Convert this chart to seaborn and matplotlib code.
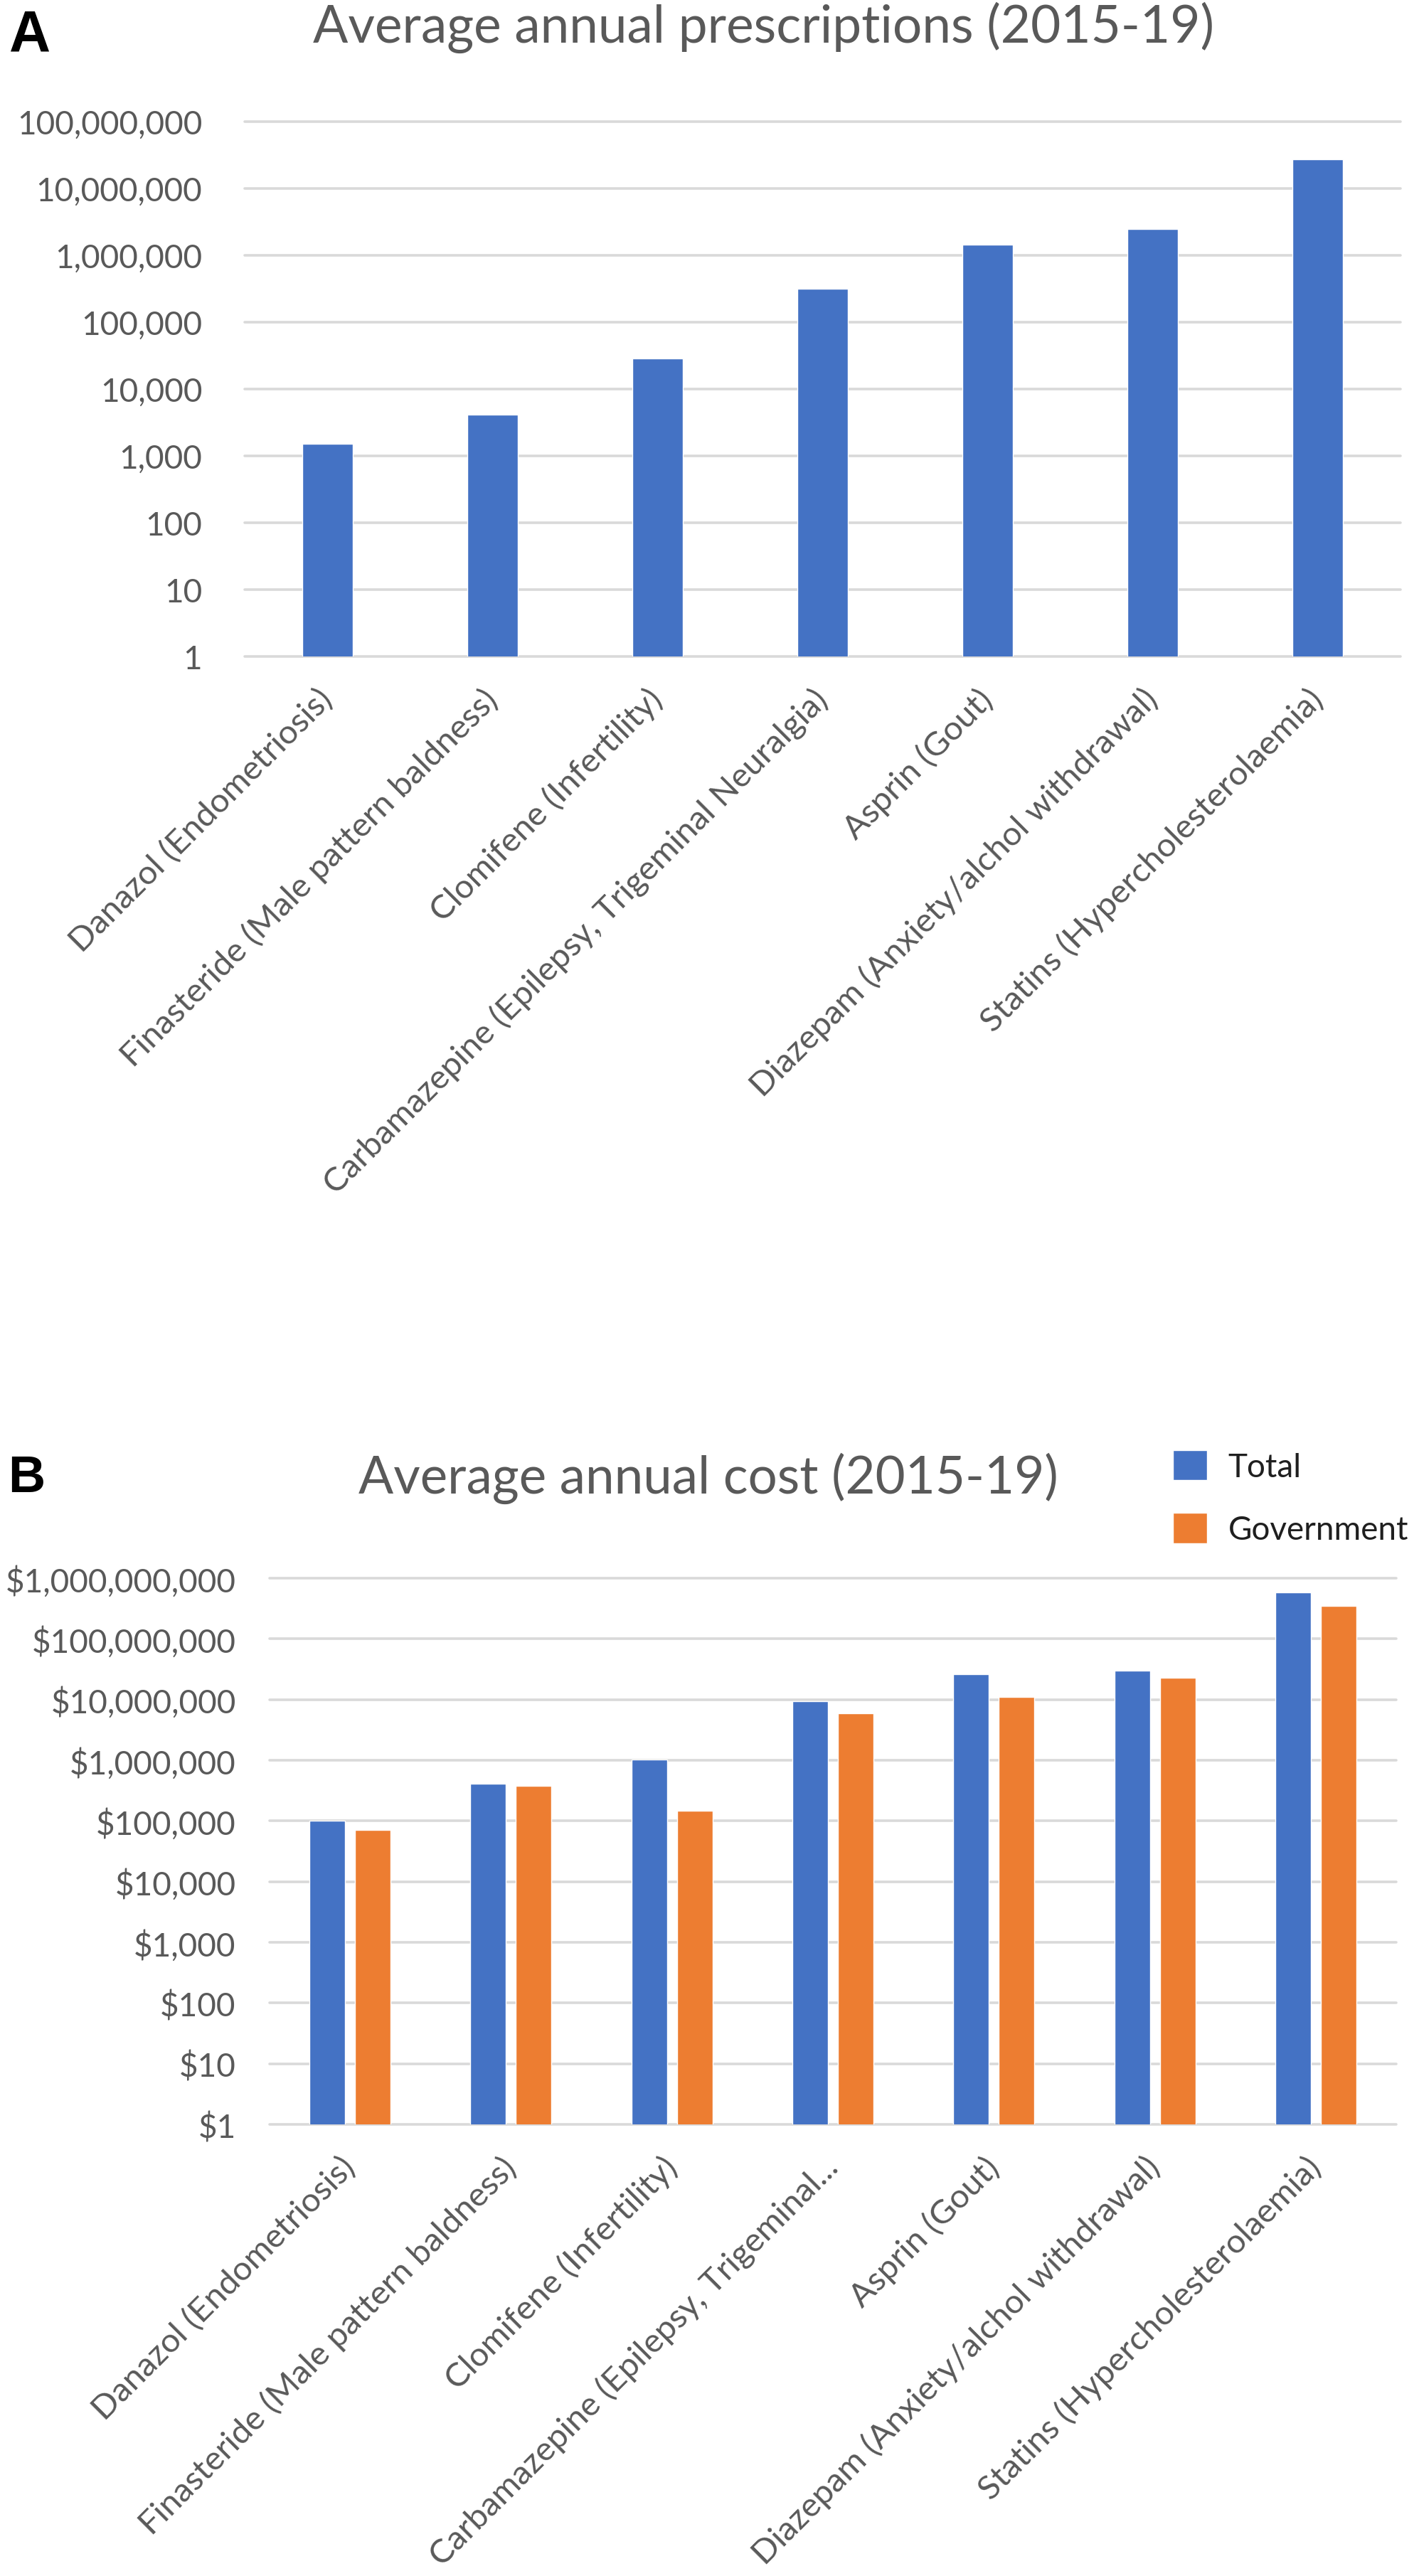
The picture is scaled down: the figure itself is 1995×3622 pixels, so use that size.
import numpy as np
import pandas as pd
import matplotlib
matplotlib.use("Agg")
import matplotlib.pyplot as plt
import seaborn as sns
from matplotlib.ticker import NullLocator, FixedLocator

# ---------------- data ----------------
categories = [
    "Danazol (Endometriosis)",
    "Finasteride (Male pattern baldness)",
    "Clomifene (Infertility)",
    "Carbamazepine (Epilepsy, Trigeminal Neuralgia)",
    "Asprin (Gout)",
    "Diazepam (Anxiety/alchol withdrawal)",
    "Statins (Hypercholesterolaemia)",
]
labels_b = [
    "Danazol (Endometriosis)",
    "Finasteride (Male pattern baldness)",
    "Clomifene (Infertility)",
    "Carbamazepine (Epilepsy, Trigeminal...",
    "Asprin (Gout)",
    "Diazepam (Anxiety/alchol withdrawal)",
    "Statins (Hypercholesterolaemia)",
]
prescriptions = [1500, 4100, 29000, 315000, 1440000, 2500000, 27500000]
cost_total = [101000, 412000, 1020000, 9450000, 25900000, 30200000, 590000000]
cost_government = [70500, 383000, 148000, 5870000, 10900000, 22600000, 352000000]
series_names = ["Total", "Government"]
yticks_a = [1, 10, 100, 1000, 10000, 100000, 1000000, 10000000, 100000000]
yticks_b = [1, 10, 100, 1000, 10000, 100000, 1000000, 10000000, 100000000, 1000000000]

title_a = "Average annual prescriptions (2015-19)"
title_b = "Average annual cost (2015-19)"

BLUE = "#4472C4"
ORANGE = "#ED7D31"
GREY_TXT = "#595959"
GRID = "#D9D9D9"

sns.set_style("white")
plt.rcParams["font.family"] = ["Lato", "DejaVu Sans"]

W, H = 1995, 3623
fig = plt.figure(figsize=(W / 100, H / 100), dpi=100)


def ax_rect(left, right, top, bottom):
    return [left / W, 1 - bottom / H, (right - left) / W, (bottom - top) / H]


YTICK_FS = 33
XTICK_FS = 34

# ---------------- panel A ----------------
axA = fig.add_axes(ax_rect(344, 1969, 172, 924))
dfA = pd.DataFrame({"drug": categories, "value": prescriptions})
sns.barplot(data=dfA, x="drug", y="value", color=BLUE, saturation=1,
            width=0.306, errorbar=None, ax=axA)
axA.set_yscale("log", nonpositive="clip")
axA.set_ylim(1, 1e8)
axA.yaxis.set_major_locator(FixedLocator(yticks_a))
axA.yaxis.set_minor_locator(NullLocator())
axA.set_yticklabels([f"{v:,}" for v in yticks_a])
axA.set_xticks(range(len(categories)))
axA.set_xticklabels(categories, rotation=45, ha="right", va="center",
                    rotation_mode="anchor")

# ---------------- panel B ----------------
axB = fig.add_axes(ax_rect(379, 1963, 2220, 2988))
dfB = pd.DataFrame({
    "drug": categories * 2,
    "series": [series_names[0]] * len(categories) + [series_names[1]] * len(categories),
    "value": cost_total + cost_government,
})
sns.barplot(data=dfB, x="drug", y="value", hue="series", hue_order=series_names,
            palette=[BLUE, ORANGE], saturation=1, width=0.566, gap=0.22,
            errorbar=None, ax=axB)
axB.set_yscale("log", nonpositive="clip")
axB.set_ylim(1, 1e9)
axB.yaxis.set_major_locator(FixedLocator(yticks_b))
axB.yaxis.set_minor_locator(NullLocator())
axB.set_yticklabels([f"${v:,}" for v in yticks_b])
axB.set_xticks(range(len(categories)))
axB.set_xticklabels(labels_b, rotation=45, ha="right", va="center",
                    rotation_mode="anchor")

for ax, ypad in ((axA, 43), (axB, 34)):
    ax.set_xlim(-0.5, len(categories) - 0.5)
    ax.set_xlabel("")
    ax.set_ylabel("")
    for s in ax.spines.values():
        s.set_visible(False)
    ax.grid(axis="y", color=GRID, linewidth=2.6)
    ax.grid(axis="x", visible=False)
    ax.set_axisbelow(True)
    ax.tick_params(axis="y", length=0, pad=ypad, labelsize=YTICK_FS, labelcolor=GREY_TXT)
    ax.tick_params(axis="x", length=0, pad=38, labelsize=XTICK_FS, labelcolor=GREY_TXT)
    for gl in ax.get_ygridlines():
        gl.set_clip_on(False)

# legend
sns.move_legend(axB, "upper left", bbox_to_anchor=(1649 / W, 1 - 2040 / H),
                bbox_transform=fig.transFigure, title=None, frameon=False,
                handlelength=1.04, handleheight=1.04, handletextpad=0.65,
                labelspacing=0.95, borderpad=0, borderaxespad=0, fontsize=33)
for t in axB.get_legend().get_texts():
    t.set_color("#1f1f1f")

# titles and panel letters
tA = fig.text(1074 / W, 1 - 60 / H, title_a, ha="center", va="baseline",
              color=GREY_TXT, fontsize=45)
tB = fig.text(996 / W, 1 - 2100 / H, title_b, ha="center", va="baseline",
              color=GREY_TXT, fontsize=45)
fig.text(13 / W, 1 - 72 / H, "A", ha="left", va="baseline", fontsize=58,
         fontweight="bold", family=["Liberation Sans", "DejaVu Sans"], color="black")
fig.text(11 / W, 1 - 2098 / H, "B", ha="left", va="baseline", fontsize=52,
         fontweight="bold", family=["Liberation Sans", "DejaVu Sans"], color="black")

fig.canvas.draw()
r = fig.canvas.get_renderer()
for t, target in ((tA, 1270), (tB, 985)):
    w = t.get_window_extent(r).width
    t.set_fontsize(t.get_fontsize() * target / w)

fig.savefig("out.png", dpi=100, facecolor="white")
